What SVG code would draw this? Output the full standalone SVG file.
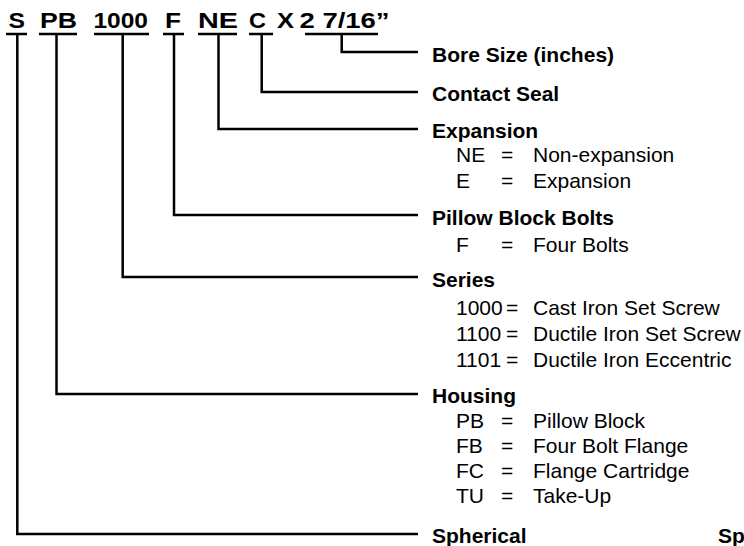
<svg xmlns="http://www.w3.org/2000/svg" width="744" height="546" viewBox="0 0 744 546">
<style>
.code{font-family:"Liberation Sans",Arial,sans-serif;font-weight:bold;font-size:22.5px;fill:#000}
.lbl{font-family:"Liberation Sans",Arial,sans-serif;font-weight:bold;font-size:21px;fill:#000}
.it{font-family:"Liberation Sans",Arial,sans-serif;font-size:21px;fill:#000}
.ln{fill:none;stroke:#000;stroke-width:2.5;stroke-linecap:butt;stroke-linejoin:miter}
</style>
<rect width="744" height="546" fill="#fff"/>
<g id="code">
<text class="code" x="8.5" y="27.5" textLength="16.5" lengthAdjust="spacingAndGlyphs">S</text>
<text class="code" x="40" y="27.5" textLength="37" lengthAdjust="spacingAndGlyphs">PB</text>
<text class="code" x="93.5" y="27.5" textLength="54.5" lengthAdjust="spacingAndGlyphs">1000</text>
<text class="code" x="165" y="27.5" textLength="16" lengthAdjust="spacingAndGlyphs">F</text>
<text class="code" x="198" y="27.5" textLength="40" lengthAdjust="spacingAndGlyphs">NE</text>
<text class="code" x="249" y="27.5" textLength="17" lengthAdjust="spacingAndGlyphs">C</text>
<text class="code" x="277" y="27.5" textLength="17" lengthAdjust="spacingAndGlyphs">X</text>
<text class="code" x="299.5" y="27.5" textLength="90" lengthAdjust="spacingAndGlyphs">2 7/16”</text>
</g>
<g id="connectors">
<path class="ln" d="M6 34H27M39 34H77M94 34H149M163 34H184M198 34H237M249 34H273M305 34H378"/>
<path class="ln" d="M17.3 34V534H418"/>
<path class="ln" d="M56.5 34V394H418"/>
<path class="ln" d="M122.7 34V277H418"/>
<path class="ln" d="M174 34V215H418"/>
<path class="ln" d="M218.5 34V129H418"/>
<path class="ln" d="M261.7 34V92H418"/>
<path class="ln" d="M341.7 34V52H418"/>
</g>
<g id="bore">
<text class="lbl" x="432" y="62">Bore Size (inches)</text>
</g>
<g id="seal">
<text class="lbl" x="432" y="101">Contact Seal</text>
</g>
<g id="expansion">
<text class="lbl" x="432" y="138">Expansion</text>
<text class="it" x="456" y="162">NE</text><text class="it" x="501" y="162">=</text><text class="it" x="533" y="162">Non-expansion</text>
<text class="it" x="456" y="188">E</text><text class="it" x="501" y="188">=</text><text class="it" x="533" y="188">Expansion</text>
</g>
<g id="bolts">
<text class="lbl" x="432" y="225">Pillow Block Bolts</text>
<text class="it" x="456" y="252">F</text><text class="it" x="501" y="252">=</text><text class="it" x="533" y="252">Four Bolts</text>
</g>
<g id="series">
<text class="lbl" x="432" y="287">Series</text>
<text class="it" x="456" y="315">1000</text><text class="it" x="506" y="315">=</text><text class="it" x="533" y="315">Cast Iron Set Screw</text>
<text class="it" x="456" y="341">1100</text><text class="it" x="506" y="341">=</text><text class="it" x="533" y="341">Ductile Iron Set Screw</text>
<text class="it" x="456" y="367">1101</text><text class="it" x="506" y="367">=</text><text class="it" x="533" y="367">Ductile Iron Eccentric</text>
</g>
<g id="housing">
<text class="lbl" x="432" y="403">Housing</text>
<text class="it" x="456" y="428">PB</text><text class="it" x="501" y="428">=</text><text class="it" x="533" y="428">Pillow Block</text>
<text class="it" x="456" y="453">FB</text><text class="it" x="501" y="453">=</text><text class="it" x="533" y="453">Four Bolt Flange</text>
<text class="it" x="456" y="478">FC</text><text class="it" x="501" y="478">=</text><text class="it" x="533" y="478">Flange Cartridge</text>
<text class="it" x="456" y="503">TU</text><text class="it" x="501" y="503">=</text><text class="it" x="533" y="503">Take-Up</text>
</g>
<g id="spherical">
<text class="lbl" x="432" y="543">Spherical</text>
<text class="lbl" x="718" y="543">Sp</text>
</g>
</svg>
